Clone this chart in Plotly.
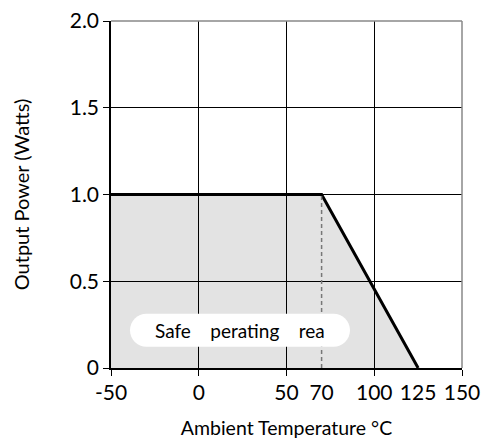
import plotly.graph_objects as go

# derating curve
temp = [-50, 70, 125]
power = [1.0, 1.0, 0.0]

# knee marker (dashed)
knee_x = [70, 70]
knee_y = [0, 1.0]

grid_ticks = [-50, 0, 50, 100, 150]
label_ticks = [-50, 0, 50, 70, 100, 125, 150]
y_ticks = [0, 0.5, 1.0, 1.5, 2.0]
y_labels = ["0", "0.5", "1.0", "1.5", "2.0"]

font = "Lato, Noto Sans, sans-serif"

fig = go.Figure()
fig.add_trace(go.Scatter(x=temp, y=power, mode="lines", fill="tozeroy",
                         fillcolor="rgba(0,0,0,0.11)",
                         line=dict(color="black", width=3), showlegend=False))
fig.add_trace(go.Scatter(x=knee_x, y=knee_y, mode="lines",
                         line=dict(color="#777", width=1.5, dash="4px,3px"),
                         showlegend=False))
# invisible trace so the label axis gets drawn
fig.add_trace(go.Scatter(x=[-50, 150], y=[0, 0], xaxis="x2", mode="markers",
                         marker=dict(opacity=0), showlegend=False, hoverinfo="skip"))

# pill-shaped label background
w, h = 110, 16.5
c = 0.5523 * h
pill = (f"M {-w+h},{-h} L {w-h},{-h} "
        f"C {w-h+c},{-h} {w},{-c} {w},0 "
        f"C {w},{c} {w-h+c},{h} {w-h},{h} "
        f"L {-w+h},{h} "
        f"C {-w+h-c},{h} {-w},{c} {-w},0 "
        f"C {-w},{-c} {-w+h-c},{-h} {-w+h},{-h} Z")
fig.add_shape(type="path", xref="x", yref="y", xsizemode="pixel", ysizemode="pixel",
              xanchor=23.5, yanchor=0.218, path=pill,
              fillcolor="white", line=dict(width=0), layer="above")
fig.add_annotation(x=23.5, y=0.218, text="Safe\u00a0\u00a0\u00a0\u00a0perating\u00a0\u00a0\u00a0\u00a0rea",
                   showarrow=False, font=dict(family=font, size=19, color="black"))

# page has an 8px body margin, so margins are shifted to compensate
fig.update_layout(
    width=497, height=441,
    margin=dict(l=103, r=43, t=13, b=81),
    plot_bgcolor="white", paper_bgcolor="white",
    font=dict(family=font, color="black"),
    xaxis=dict(range=[-50, 150], tickvals=grid_ticks, showticklabels=False,
               ticks="outside", ticklen=6, tickcolor="black",
               showgrid=True, gridcolor="black", gridwidth=1,
               showline=True, linecolor="black", linewidth=1.5,
               zeroline=False, automargin=False),
    xaxis2=dict(range=[-50, 150], overlaying="x", side="bottom", anchor="y",
                tickvals=label_ticks, ticktext=[str(v) for v in label_ticks],
                ticks="outside", ticklen=6, tickcolor="rgba(0,0,0,0)",
                showgrid=False, zeroline=False, showline=False,
                tickfont=dict(size=21), automargin=False, ticklabeloverflow="allow",
                title=dict(text="Ambient Temperature °C", font=dict(size=19.5), standoff=18)),
    yaxis=dict(range=[0, 2.0], tickvals=y_ticks, ticktext=y_labels,
               ticks="outside", ticklen=6, tickcolor="black",
               showgrid=True, gridcolor="black", gridwidth=1,
               showline=True, linecolor="black", linewidth=1.5,
               zeroline=False, tickfont=dict(size=21), automargin=False,
               ticklabeloverflow="allow",
               title=dict(text="Output Power (Watts)", font=dict(size=20), standoff=35)),
)
# top and right borders in grey
fig.add_shape(type="line", xref="paper", yref="paper", x0=0, x1=1, y0=1, y1=1,
              line=dict(color="#888", width=1.5), layer="above")
fig.add_shape(type="line", xref="paper", yref="paper", x0=1, x1=1, y0=0, y1=1,
              line=dict(color="#888", width=1.5), layer="above")

fig.write_html("out.html")
